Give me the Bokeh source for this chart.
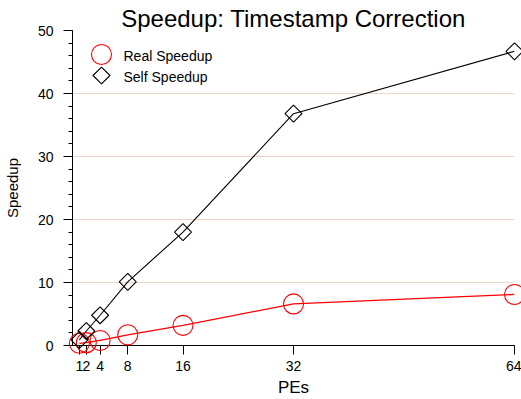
import math
from bokeh.plotting import figure
from bokeh.models import (Range1d, FixedTicker, SingleIntervalTicker, ColumnDataSource)
from bokeh.core.properties import value
from bokeh.embed import file_html
from bokeh.resources import INLINE

# ---- data ----
pes = [1, 2, 4, 8, 16, 32, 64]
real_speedup = [0.35, 0.45, 0.8, 1.7, 3.2, 6.6, 8.1]
self_speedup = [0.9, 2.3, 4.8, 10.1, 18.0, 36.8, 46.7]
x_ticks = [1, 2, 4, 8, 16, 32, 64]
y_ticks = [0, 10, 20, 30, 40, 50]
title_text = "Speedup: Timestamp Correction"
x_label = "PEs"
y_label = "Speedup"
series_names = ["Real Speedup", "Self Speedup"]

FONT = "Liberation Sans"
FRAME_W, FRAME_H = 442, 315

p = figure(width=521, height=399, output_backend="svg", toolbar_location=None,
           x_range=Range1d(0, 64), y_range=Range1d(0, 50),
           min_border_left=72, min_border_right=7, min_border_top=30, min_border_bottom=54)
p.background_fill_color = "white"
p.border_fill_color = "white"
p.outline_line_color = None

p.title.text = title_text
p.title.align = "center"
p.title.text_font = FONT
p.title.text_font_size = "24px"
p.title.text_font_style = "normal"
p.title.text_color = "black"
p.title.standoff = -2

src = ColumnDataSource(dict(x=pes, real=real_speedup, self_=self_speedup))

p.line("x", "real", source=src, line_color="#ff0000", line_width=1.3)
p.scatter("x", "real", source=src, marker="circle", size=20,
          fill_color=None, line_color="#ff0000", line_width=1.1, level="overlay")
p.line("x", "self_", source=src, line_color="black", line_width=1.1)
p.scatter("x", "self_", source=src, marker="square", size=12, angle=math.pi / 4,
          fill_color=None, line_color="black", line_width=1.1, level="overlay")

# axes
xa = p.xaxis[0]
xa.ticker = FixedTicker(ticks=x_ticks, minor_ticks=[])
xa.axis_label = x_label
ya = p.yaxis[0]
ya.ticker = SingleIntervalTicker(interval=10, num_minor_ticks=5)
ya.axis_label = y_label
for ax in (xa, ya):
    ax.axis_line_color = "black"
    ax.major_tick_line_color = "black"
    ax.minor_tick_line_color = "black"
    ax.major_tick_in = 0
    ax.minor_tick_in = 0
    ax.major_tick_out = 9
    ax.minor_tick_out = 4
    ax.major_label_text_font = FONT
    ax.major_label_text_font_size = "14px"
    ax.major_label_text_color = "black"
    ax.axis_label_text_font = FONT
    ax.axis_label_text_font_style = "normal"
    ax.axis_label_text_color = "black"
xa.axis_label_text_font_size = "17px"
ya.axis_label_text_font_size = "15px"
xa.major_label_standoff = 6
xa.axis_label_standoff = 4
ya.major_label_standoff = 10
ya.axis_label_standoff = 14

p.xgrid.visible = False
p.ygrid.ticker = FixedTicker(ticks=y_ticks[1:])
p.ygrid.grid_line_color = "#ecd6cc"
p.ygrid.grid_line_width = 1

# legend drawn in frame pixel coordinates (top-left origin)
p.extra_x_ranges["px"] = Range1d(0, FRAME_W)
p.extra_y_ranges["py"] = Range1d(FRAME_H, 0)
leg_key_x = [29]
p.scatter(x=leg_key_x, y=[24], marker="circle", size=20, fill_color=None,
          line_color="#ff0000", line_width=1.1, x_range_name="px", y_range_name="py")
p.scatter(x=leg_key_x, y=[45], marker="square", size=12, angle=math.pi / 4, fill_color=None,
          line_color="black", line_width=1.1, x_range_name="px", y_range_name="py")
p.text(x=[51, 51], y=[25.5, 46.5], text=series_names, text_font=value(FONT),
       text_font_size="14px", text_color="black", text_baseline="middle",
       text_align="left", x_range_name="px", y_range_name="py")

open("out.html", "w").write(file_html(p, INLINE))
